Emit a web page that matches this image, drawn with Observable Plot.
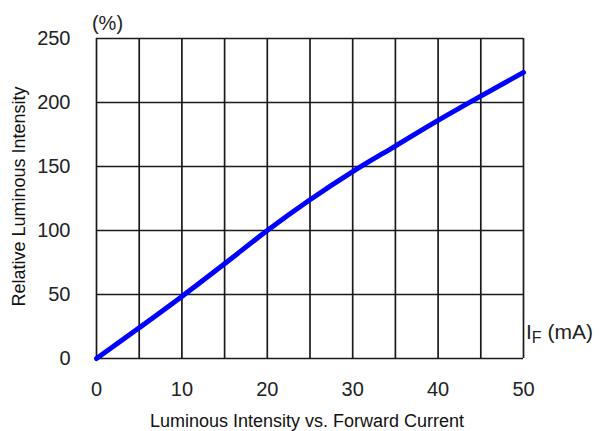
<!DOCTYPE html>
<html><head><meta charset="utf-8">
<script src="https://cdn.jsdelivr.net/npm/d3@7"></script>
<script src="https://cdn.jsdelivr.net/npm/@observablehq/plot@0.6"></script>
<style>html,body{margin:0;padding:0;background:#fff} svg{display:block}</style>
</head><body><div id="chart"></div>
<script>
const current = [0, 5, 10, 15, 20, 25, 30, 35, 40, 45, 50];
const intensity = [0, 24, 48.5, 74, 100, 124, 146, 166, 186, 205, 223.5];
const xTicks = [0, 10, 20, 30, 40, 50];
const xGrid = [0, 5, 10, 15, 20, 25, 30, 35, 40, 45, 50];
const yTicks = [0, 50, 100, 150, 200, 250];
const yTitle = "Relative Luminous Intensity";
const yUnit = "(%)";
const caption = "Luminous Intensity vs. Forward Current";

const data = current.map((c, i) => ({c, v: intensity[i]}));
const font = "'Liberation Sans', Arial, Helvetica, sans-serif";

const chart = Plot.plot({
  width: 600, height: 431,
  marginLeft: 96, marginRight: 77, marginTop: 38, marginBottom: 73,
  x: {domain: [0, 50]},
  y: {domain: [0, 250]},
  style: {fontFamily: font, fontSize: "20px", color: "#222", background: "#fff"},
  marks: [
    Plot.ruleX(xGrid, {stroke: "#1a1a1a", strokeWidth: 1.7}),
    Plot.ruleY(yTicks, {stroke: "#1a1a1a", strokeWidth: 1.7}),
    Plot.line(data, {x: "c", y: "v", stroke: "#0000ff", strokeWidth: 5, curve: "monotone-x"}),
    Plot.axisX({ticks: xTicks, tickSize: 0, tickPadding: 23, label: null, fontSize: 20}),
    Plot.axisY({ticks: yTicks, tickSize: 0, tickPadding: 26, label: null, fontSize: 20}),
    Plot.text([yTitle], {frameAnchor: "left", dx: -77, dy: -2, rotate: -90, textAnchor: "middle", lineAnchor: "middle", fontSize: 18, fill: "#111"}),
    Plot.text([yUnit], {frameAnchor: "top-left", dx: 11, dy: -15, textAnchor: "middle", lineAnchor: "middle", fontSize: 20, fill: "#222"}),
    Plot.text([caption], {frameAnchor: "bottom", dx: -3, dy: 63, textAnchor: "middle", lineAnchor: "middle", fontSize: 18, fill: "#111"})
  ]
});

const svg = d3.select(chart);
const t = svg.append("text")
  .attr("x", 526).attr("y", 339)
  .attr("text-anchor", "start")
  .attr("font-family", font).attr("font-size", 21).attr("fill", "#222");
t.append("tspan").text("I");
t.append("tspan").attr("dy", 3.5).attr("font-size", 16).text("F");
t.append("tspan").attr("dy", -3.5).text(" (mA)");

document.getElementById("chart").appendChild(chart);
</script>
</body></html>
